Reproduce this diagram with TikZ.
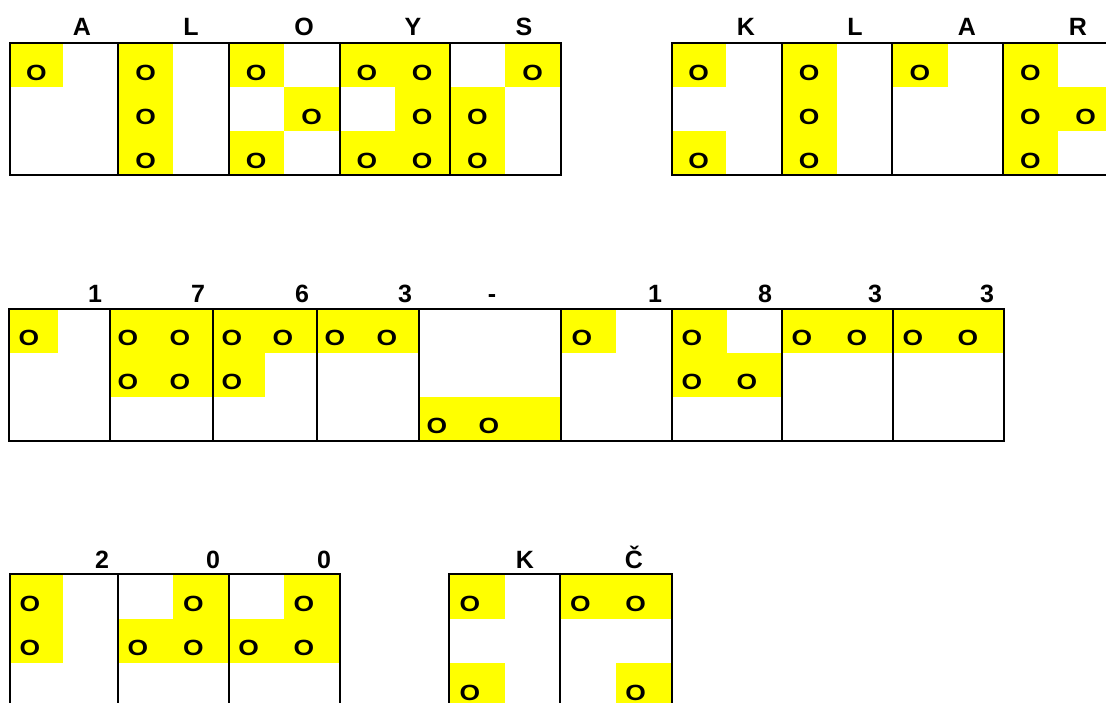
\documentclass[tikz,border=0pt]{standalone}
\usepackage{fontspec}
\setmainfont{Liberation Sans}
\newfontfamily\cellfont[FakeStretch=1.2]{Liberation Sans}
\definecolor{cellyellow}{RGB}{255,255,0}
\begin{document}
\begin{tikzpicture}[
    x=1pt, y=-1pt,
    frame/.style={draw=black, line width=1.9pt},
    lit/.style={fill=cellyellow},
    onode/.style={font=\cellfont\fontsize{22}{22}\bfseries, anchor=base, inner sep=0pt},
    glyph/.style={font=\fontsize{25}{25}\bfseries, anchor=base, inner sep=0pt}
]
    \useasboundingbox (0,0) rectangle (1106,703);

    % ALOYS KLAR
    \foreach \c/\r [count=\i] in {0/1, 2/1, 2/2, 2/3, 4/1, 5/2, 4/3, 6/1, 7/1, 7/2, 6/3, 7/3,
        9/1, 8/2, 8/3, 12/1, 12/3, 14/1, 14/2, 14/3, 16/1, 18/1, 18/2, 19/2, 18/3} {
        \pgfmathsetmacro\xl{ifthenelse(\c==0,10,7.4+55.3*\c)}
        \pgfmathsetmacro\xr{7.4+55.3*(\c+1)}
        \pgfmathsetmacro\yt{43+44*(\r-1)}
        \fill[lit] ({\xl},{\yt}) rectangle ({\xr},{\yt+44});
        \node[onode] (a\i) at ({(\xl+\xr)/2},{\yt+37.3}) {O};
    }
    \foreach \xl/\xr in {10/118, 118/229, 229/340, 340/450, 450/561,
        672/782, 782/892, 892/1003, 1003/1113}
        \draw[frame] (\xl,43) rectangle (\xr,175);
    \foreach \x/\t [count=\i] in {82/A, 191/L, 304/O, 413/Y, 524/S, 746/K, 855/L, 967/A, 1078/R}
        \node[glyph] (la\i) at (\x,36) {\t};

    % 1763-1833
    \foreach \xl/\xr/\r in {9/58/1, 110/213/1, 110/213/2, 213/317/1, 213/265/2, 317/419/1,
        419/561/3, 561/616/1, 672/727/1, 672/782/2, 782/893/1, 893/1004/1} {
        \pgfmathsetmacro\yt{309+44*(\r-1)}
        \fill[lit] ({\xl},{\yt}) rectangle ({\xr},{\yt+44});
    }
    \foreach \x/\r [count=\i] in {29/1, 128/1, 180/1, 232/1, 283/1, 335/1, 387/1, 582/1,
        692/1, 802/1, 857/1, 913/1, 968/1, 128/2, 180/2, 232/2, 692/2, 747/2, 437/3, 489/3} {
        \pgfmathsetmacro\yt{309+44*(\r-1)}
        \node[onode] (b\i) at ({\x},{\yt+36}) {O};
    }
    \foreach \xl/\xr in {9/110, 110/213, 213/317, 317/419, 419/561, 561/672,
        672/782, 782/893, 893/1004}
        \draw[frame] (\xl,309) rectangle (\xr,441);
    \foreach \x/\t [count=\i] in {95/1, 198/7, 302/6, 405/3, 492/-, 655/1, 765/8, 875/3, 987/3}
        \node[glyph] (lb\i) at (\x,303) {\t};

    % 200 KČ
    \foreach \c/\r [count=\i] in {0/1, 0/2, 3/1, 2/2, 3/2, 5/1, 4/2, 5/2,
        8/1, 8/3, 10/1, 11/1, 11/3} {
        \pgfmathsetmacro\xl{ifthenelse(\c==0,10,7.4+55.3*\c)}
        \pgfmathsetmacro\xr{7.4+55.3*(\c+1)}
        \pgfmathsetmacro\yt{574+44.5*(\r-1)}
        \fill[lit] ({\xl},{\yt}) rectangle ({\xr},{\yt+44.5});
        \node[onode] (c\i) at ({\xl+20},{\yt+37}) {O};
    }
    \foreach \xl/\xr in {10/118, 118/229, 229/340, 449/560, 560/672}
        \draw[frame] (\xl,574) rectangle (\xr,707.5);
    \foreach \x/\t [count=\i] in {102/2, 213/0, 324/0, 525/K, 634/Č}
        \node[glyph] (lc\i) at (\x,568) {\t};
\end{tikzpicture}
\end{document}
